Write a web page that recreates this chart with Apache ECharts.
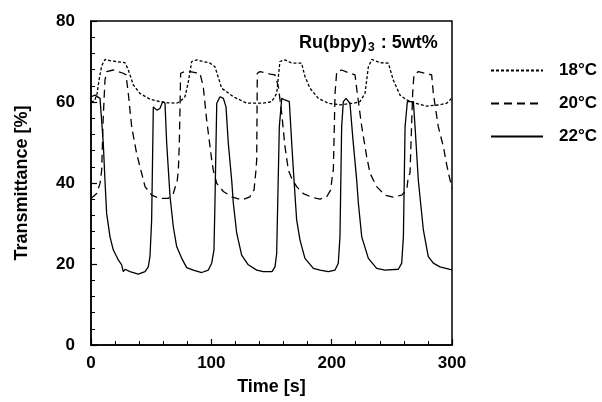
<!DOCTYPE html>
<html>
<head>
<meta charset="utf-8">
<script src="https://cdn.jsdelivr.net/npm/echarts@6/dist/echarts.min.js"></script>
<style>html,body{margin:0;padding:0;background:#fff;}#c{width:602px;height:402px;}</style>
</head>
<body>
<div id="c"></div>
<script>
const seriesNames = ['18°C', '20°C', '22°C'];
const xTicks = [0, 100, 200, 300];
const yTicks = [0, 20, 40, 60, 80];
const data18 = [[0,60],[3,60.3],[5,62],[7,66],[9,69],[11.6,70.5],[15.8,70.2],[28.3,69.7],[31,67.9],[35.2,64.2],[40.7,62.1],[49,60.7],[57.3,60.1],[64,59.8],[71.2,59.7],[74,60.1],[78.1,61.3],[80.9,65],[83.7,70],[87.8,70.4],[98.9,69.6],[103,68.7],[108.6,63.4],[118.3,61.3],[129.4,59.7],[143.2,59.7],[150.2,60.1],[154.3,62.1],[157,70],[161.2,70.4],[166.8,69.6],[175,69.6],[177.8,66.3],[182,63.4],[188.9,60.9],[197.2,59.7],[206.9,59.3],[218,59.7],[223.5,60.1],[227.7,62.1],[230.5,68.7],[233.3,70.5],[240.2,69.7],[247.1,69.6],[251.2,65.4],[256.8,61.7],[262.4,60.5],[269.3,59.7],[279,59],[290,59.3],[295.6,59.7],[299.7,60.9]];
const data20 = [[0,36.2],[4.7,37.4],[7.5,39.9],[8.9,43.2],[10,55],[11.6,65.4],[13,67.5],[18.5,67.9],[26.8,67.1],[29.1,66.7],[31,62.1],[33.8,53.9],[37.9,47.3],[42.1,42.4],[44.9,39.1],[50.4,37],[57.3,36.2],[64.3,36.2],[68.4,37.4],[71.7,40.7],[72.6,43.2],[73.4,49.8],[74.5,67.1],[78.1,67.5],[82.3,67.5],[87.8,67.2],[90.6,67.1],[93.3,63.8],[96.1,55.6],[100.3,45.7],[101.6,43.2],[104.5,39.9],[110,37.9],[116.9,36.6],[125.2,35.8],[132.1,36.6],[135.5,38.3],[137.1,43.2],[137.7,45.7],[138.2,67.1],[140.4,67.5],[148.8,66.9],[152.9,66.7],[155.7,63.8],[158.5,57.2],[161.2,49],[164,43.2],[167,41],[170.9,39.1],[176.4,37.4],[183.4,36.5],[190.3,36],[195.9,36.6],[199.2,38.3],[200.8,42.4],[201.4,43.2],[202.8,62.1],[204.2,67.5],[208.3,67.9],[215.2,67.1],[219.4,66.7],[221.3,62.1],[225,53.9],[229.1,46.5],[231.9,42.4],[233.3,42],[237.4,39.1],[244.3,37],[251.2,36.5],[258.2,37],[262.4,38.3],[263.7,41.6],[265.1,42.4],[267.3,62.1],[268.4,66.7],[272,67.5],[277.6,67.1],[283.1,66.7],[284.5,62.1],[288.6,53.9],[292.8,49],[295.6,44.5],[297,42.5],[300,38.7]];
const data22 = [[0,61.3],[3.3,61.7],[7.5,60.9],[8.9,60.5],[10.2,49.8],[11.6,40.7],[13,32.5],[15.8,26.7],[18.5,23.5],[22.7,21],[25.5,19.8],[26.8,18.1],[28.3,18.7],[32.4,18.1],[39.3,17.5],[44.9,18.1],[47.6,19.3],[49,21.8],[50.4,30.9],[51.8,58.8],[54.6,58],[57.3,58.4],[59.6,60.1],[61.5,59.7],[62.9,49.8],[65.7,36.6],[68.4,29.2],[71.2,24.3],[75.4,21.4],[79.5,19.1],[85,18.5],[92,17.9],[97.5,18.5],[100.3,20.2],[102.2,23.5],[103,35],[104.5,59.7],[107.2,61.3],[110,60.9],[112.2,58.8],[114.1,49.8],[116.9,40.7],[118.3,35],[121.1,27.6],[125.2,22.2],[130.7,19.8],[137.7,18.5],[143.2,18.1],[150.4,18.1],[152.9,19.3],[154.3,22.6],[156.5,53.9],[158.5,60.9],[161.2,60.5],[164.8,60.1],[166.8,49.8],[168.7,40.7],[170.9,30.9],[173.7,25.9],[177.8,21.4],[184.8,18.9],[190.3,18.5],[197.2,18.1],[202.8,18.5],[205.5,20.2],[206.9,26.7],[208.3,53.9],[209.7,60.1],[211.9,60.9],[215.2,59.7],[217.5,51.4],[220.8,40.7],[222.2,35],[225,26.7],[230.5,21.4],[237.4,18.9],[244.3,18.5],[255.4,18.7],[258.2,20.2],[259.6,26.7],[261,53.9],[262.9,60.1],[267.9,60.1],[269.3,53.9],[272,40.7],[273.4,36.6],[276.2,28.4],[280.3,21.8],[284.5,20.2],[290,19.3],[298.3,18.7],[300,18.6]];

const FONT = '"Liberation Sans", Arial, Helvetica, sans-serif';
const chart = echarts.init(document.getElementById('c'), null, {renderer: 'canvas'});
const lineTypes = [[3, 2], [8, 5], 'solid'];
const datas = [data18, data20, data22];
chart.setOption({
  animation: false,
  backgroundColor: '#fff',
  grid: {left: 91, right: 150, top: 21, bottom: 57, show: true, borderColor: '#000', borderWidth: 1.5, backgroundColor: 'transparent'},
  title: {
    text: '{a|Ru(bpy)}{s|3}{a| : 5wt%}',
    left: 299, top: 32, padding: 0,
    textStyle: {
      rich: {
        a: {fontFamily: FONT, fontWeight: 'bold', fontSize: 18, color: '#000', lineHeight: 22},
        s: {fontFamily: FONT, fontWeight: 'bold', fontSize: 12, color: '#000', lineHeight: 22, verticalAlign: 'bottom', padding: [7, 1, 0, 1]}
      }
    }
  },
  legend: {
    orient: 'vertical', left: 490, top: 61, padding: 0,
    itemWidth: 52, itemHeight: 14, itemGap: 14,
    data: seriesNames,
    itemStyle: {opacity: 0},
    textStyle: {fontFamily: FONT, fontWeight: 'bold', fontSize: 17, color: '#000', padding: [0, 0, 0, 11], lineHeight: 19}
  },
  xAxis: {
    type: 'value', min: 0, max: 300, interval: 100,
    name: 'Time [s]', nameLocation: 'middle', nameGap: 33,
    nameTextStyle: {fontFamily: FONT, fontWeight: 'bold', fontSize: 18, color: '#000'},
    axisLine: {show: true, onZero: false, lineStyle: {color: '#000', width: 1.5}},
    axisTick: {show: true, inside: true, length: 6, lineStyle: {color: '#000', width: 1.2}},
    minorTick: {show: true, splitNumber: 5, length: 4, lineStyle: {color: '#000', width: 1}},
    splitLine: {show: false},
    axisLabel: {fontFamily: FONT, fontWeight: 'bold', fontSize: 17, color: '#000', margin: 10,
      formatter: v => xTicks.includes(v) ? String(v) : ''}
  },
  yAxis: {
    type: 'value', min: 0, max: 80, interval: 20,
    name: 'Transmittance [%]', nameLocation: 'middle', nameGap: 60,
    nameTextStyle: {fontFamily: FONT, fontWeight: 'bold', fontSize: 18, color: '#000'},
    axisLine: {show: true, onZero: false, lineStyle: {color: '#000', width: 1.5}},
    axisTick: {show: true, inside: true, length: 6, lineStyle: {color: '#000', width: 1.2}},
    minorTick: {show: true, splitNumber: 5, length: 4, lineStyle: {color: '#000', width: 1}},
    splitLine: {show: false},
    axisLabel: {fontFamily: FONT, fontWeight: 'bold', fontSize: 17, color: '#000', margin: 16,
      formatter: v => yTicks.includes(v) ? String(v) : ''}
  },
  series: seriesNames.map((n, i) => ({
    name: n, type: 'line', data: datas[i], symbol: 'none', showSymbol: false,
    lineStyle: {color: '#000', width: 1.3, type: lineTypes[i]},
    itemStyle: {color: '#000'}
  }))
});
</script>
</body>
</html>
